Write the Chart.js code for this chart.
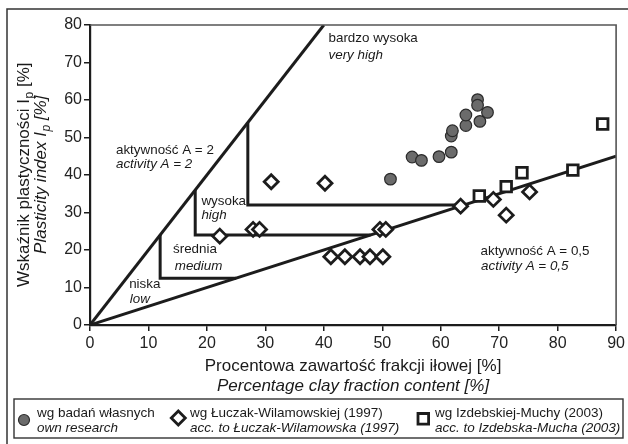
<!DOCTYPE html>
<html><head><meta charset="utf-8">
<script src="https://cdn.jsdelivr.net/npm/chart.js@4.4.0/dist/chart.umd.min.js"></script>
<style>html,body{margin:0;padding:0;background:#fff}#wrap{position:relative;width:628px;height:444px}</style>
</head><body><div id="wrap"><canvas id="c" width="628" height="444"></canvas></div>
<script>
// ---- data ----
const xTicks = [0, 10, 20, 30, 40, 50, 60, 70, 80, 90];
const yTicks = [0, 10, 20, 30, 40, 50, 60, 70, 80];

// own research (circles)
const ownX = [51.4, 55.1, 56.7, 59.7, 61.8, 61.8, 62.0, 64.3, 64.3, 66.3, 66.3, 66.7, 68.0];
const ownY = [38.9, 44.8, 43.9, 44.9, 46.1, 50.4, 51.8, 53.2, 56.0, 60.1, 58.6, 54.3, 56.7];

// Łuczak-Wilamowska (1997) (diamonds)
const lwX = [22.2, 27.9, 29.0, 31.0, 40.2, 49.6, 50.6, 41.2, 43.6, 46.2, 47.9, 50.1, 63.4, 69.0, 71.2, 75.2];
const lwY = [23.7, 25.5, 25.5, 38.2, 37.8, 25.5, 25.5, 18.2, 18.2, 18.2, 18.2, 18.2, 31.7, 33.5, 29.3, 35.5];

// Izdebska-Mucha (2003) (squares)
const imX = [66.6, 71.2, 73.9, 82.6, 87.7];
const imY = [34.4, 36.9, 40.6, 41.3, 53.6];

// activity lines and class boundaries (x, y pairs)
const lineA2  = [[0, 0], [40, 80]];
const lineA05 = [[0, 0], [90, 45]];
const bLowMedium  = [[12, 24], [12, 12.5], [25, 12.5]];
const bMediumHigh = [[18, 36], [18, 24], [48, 24]];
const bHighVery   = [[27, 54], [27, 32], [64, 32]];

// in-plot labels: [text, x, y, italic]
const plotLabels = [
  ['bardzo wysoka', 40.8, 75.6, false], ['very high', 40.8, 71.0, true],
  ['aktywność A = 2', 4.44, 45.7, false], ['activity A = 2', 4.44, 41.9, true],
  ['wysoka', 19.06, 32.0, false], ['high', 19.06, 28.15, true],
  ['średnia', 14.2, 19.1, false], ['medium', 14.5, 14.7, true],
  ['niska', 6.7, 9.8, false], ['low', 6.8, 5.8, true],
  ['aktywność A = 0,5', 66.8, 18.6, false], ['activity A = 0,5', 66.9, 14.6, true]
];

const xTitle = ['Procentowa zawartość frakcji iłowej [%]', 'Percentage clay fraction content [%]'];
const yTitlePl = ['Wskaźnik plastyczności I', 'p', ' [%]'];
const yTitleEn = ['Plasticity index I', 'p', ' [%]'];
const legendItems = [
  ['wg badań własnych', 'own research'],
  ['wg Łuczak-Wilamowskiej (1997)', 'acc. to Łuczak-Wilamowska (1997)'],
  ['wg Izdebskiej-Muchy (2003)', 'acc. to Izdebska-Mucha (2003)']
];

// ---- chart ----
const FONT = '"Liberation Sans", Arial, sans-serif';
const INK = '#1c1c1c';
const pts = (xs, ys) => xs.map((x, i) => ({x: x, y: ys[i]}));
const pairs = arr => arr.map(p => ({x: p[0], y: p[1]}));
const lineDs = d => ({data: pairs(d), showLine: true, pointRadius: 0, borderColor: INK, borderWidth: 3, fill: false, tension: 0, borderJoinStyle: 'miter'});

const decor = {
  id: 'decor',
  afterDraw(chart) {
    const ctx = chart.ctx, ca = chart.chartArea, xs = chart.scales.x, ys = chart.scales.y;
    ctx.save();
    // outer frame
    ctx.strokeStyle = '#333'; ctx.lineWidth = 1.5;
    ctx.beginPath(); ctx.moveTo(7, 444); ctx.lineTo(7, 9); ctx.lineTo(628, 9); ctx.stroke();
    // plot box top/right
    ctx.strokeStyle = '#555'; ctx.lineWidth = 1.6;
    ctx.beginPath(); ctx.moveTo(ca.left, ca.top); ctx.lineTo(ca.right, ca.top); ctx.lineTo(ca.right, ca.bottom); ctx.stroke();
    // plot labels
    ctx.fillStyle = '#1a1a1a'; ctx.textBaseline = 'alphabetic'; ctx.textAlign = 'left';
    plotLabels.forEach(l => {
      ctx.font = (l[3] ? 'italic ' : '') + '13.4px ' + FONT;
      ctx.fillText(l[0], xs.getPixelForValue(l[1]), ys.getPixelForValue(l[2]));
    });
    // x title
    const cx = (ca.left + ca.right) / 2;
    ctx.textAlign = 'center';
    ctx.font = '17px ' + FONT; ctx.fillText(xTitle[0], cx, 371);
    ctx.font = 'italic 17px ' + FONT; ctx.fillText(xTitle[1], cx, 391);
    // y title (rotated, with subscript)
    const cy = (ca.top + ca.bottom) / 2;
    const drawRot = (parts, italic, bx) => {
      const f = (italic ? 'italic ' : '') + '17px ' + FONT, fs = (italic ? 'italic ' : '') + '12px ' + FONT;
      ctx.font = f; const w0 = ctx.measureText(parts[0]).width, w2 = ctx.measureText(parts[2]).width;
      ctx.font = fs; const w1 = ctx.measureText(parts[1]).width;
      const tot = w0 + w1 + w2;
      ctx.save(); ctx.translate(bx, cy); ctx.rotate(-Math.PI / 2); ctx.textAlign = 'left';
      let x0 = -tot / 2;
      ctx.font = f; ctx.fillText(parts[0], x0, 0);
      ctx.font = fs; ctx.fillText(parts[1], x0 + w0 + 0.5, 4);
      ctx.font = f; ctx.fillText(parts[2], x0 + w0 + w1 + 0.5, 0);
      ctx.restore();
    };
    drawRot(yTitlePl, false, 29);
    drawRot(yTitleEn, true, 46);
    // legend box
    ctx.strokeStyle = '#333'; ctx.lineWidth = 1.4;
    ctx.strokeRect(14, 399, 609, 39);
    // legend markers
    ctx.beginPath(); ctx.arc(24, 420, 5.5, 0, Math.PI * 2);
    ctx.fillStyle = '#6b6b6b'; ctx.fill(); ctx.strokeStyle = '#2b2b2b'; ctx.lineWidth = 1.2; ctx.stroke();
    ctx.beginPath(); ctx.moveTo(171.3, 418); ctx.lineTo(178.3, 411); ctx.lineTo(185.3, 418); ctx.lineTo(178.3, 425); ctx.closePath();
    ctx.fillStyle = '#fff'; ctx.fill(); ctx.strokeStyle = INK; ctx.lineWidth = 2.8; ctx.stroke();
    ctx.beginPath(); ctx.rect(418, 413.5, 10.6, 10.6); ctx.fill(); ctx.stroke();
    // legend text
    ctx.fillStyle = '#1a1a1a'; ctx.textAlign = 'left';
    const lx = [37, 190, 435];
    legendItems.forEach((it, i) => {
      ctx.font = '13.5px ' + FONT; ctx.fillText(it[0], lx[i], 416.5);
      ctx.font = 'italic 13.5px ' + FONT; ctx.fillText(it[1], lx[i], 431.5);
    });
    ctx.restore();
  }
};

const axisCommon = {
  type: 'linear',
  grid: {drawOnChartArea: false, drawTicks: true, tickLength: 6, color: INK, lineWidth: 1.5},
  border: {display: true, color: INK, width: 2.2},
  ticks: {font: {family: FONT, size: 16}, color: '#222', maxRotation: 0, autoSkip: false}
};

new Chart(document.getElementById('c'), {
  type: 'scatter',
  data: {
    datasets: [
      {data: pts(ownX, ownY), pointStyle: 'circle', pointRadius: 5.8, backgroundColor: '#6b6b6b', borderColor: '#2b2b2b', borderWidth: 1.2},
      {data: pts(lwX, lwY), pointStyle: 'rectRot', pointRadius: 7, backgroundColor: '#fff', borderColor: INK, borderWidth: 2.8},
      {data: pts(imX, imY), pointStyle: 'rect', pointRadius: 7.5, backgroundColor: '#fff', borderColor: INK, borderWidth: 2.8},
      lineDs(lineA2), lineDs(lineA05), lineDs(bLowMedium), lineDs(bMediumHigh), lineDs(bHighVery)
    ]
  },
  options: {
    responsive: false, animation: false, devicePixelRatio: 1,
    layout: {padding: {left: 0, top: 25, right: 10, bottom: 0}},
    plugins: {legend: {display: false}, tooltip: {enabled: false}},
    scales: {
      x: Object.assign({}, axisCommon, {min: 0, max: 90,
        ticks: Object.assign({}, axisCommon.ticks, {padding: 3}),
        afterBuildTicks: s => { s.ticks = xTicks.map(v => ({value: v})); },
        afterFit: s => { s.height = 119; }}),
      y: Object.assign({}, axisCommon, {min: 0, max: 80,
        ticks: Object.assign({}, axisCommon.ticks, {padding: 2}),
        afterBuildTicks: s => { s.ticks = yTicks.map(v => ({value: v})); },
        afterFit: s => { s.width = 90; }})
    }
  },
  plugins: [decor]
});
</script>
</body></html>
